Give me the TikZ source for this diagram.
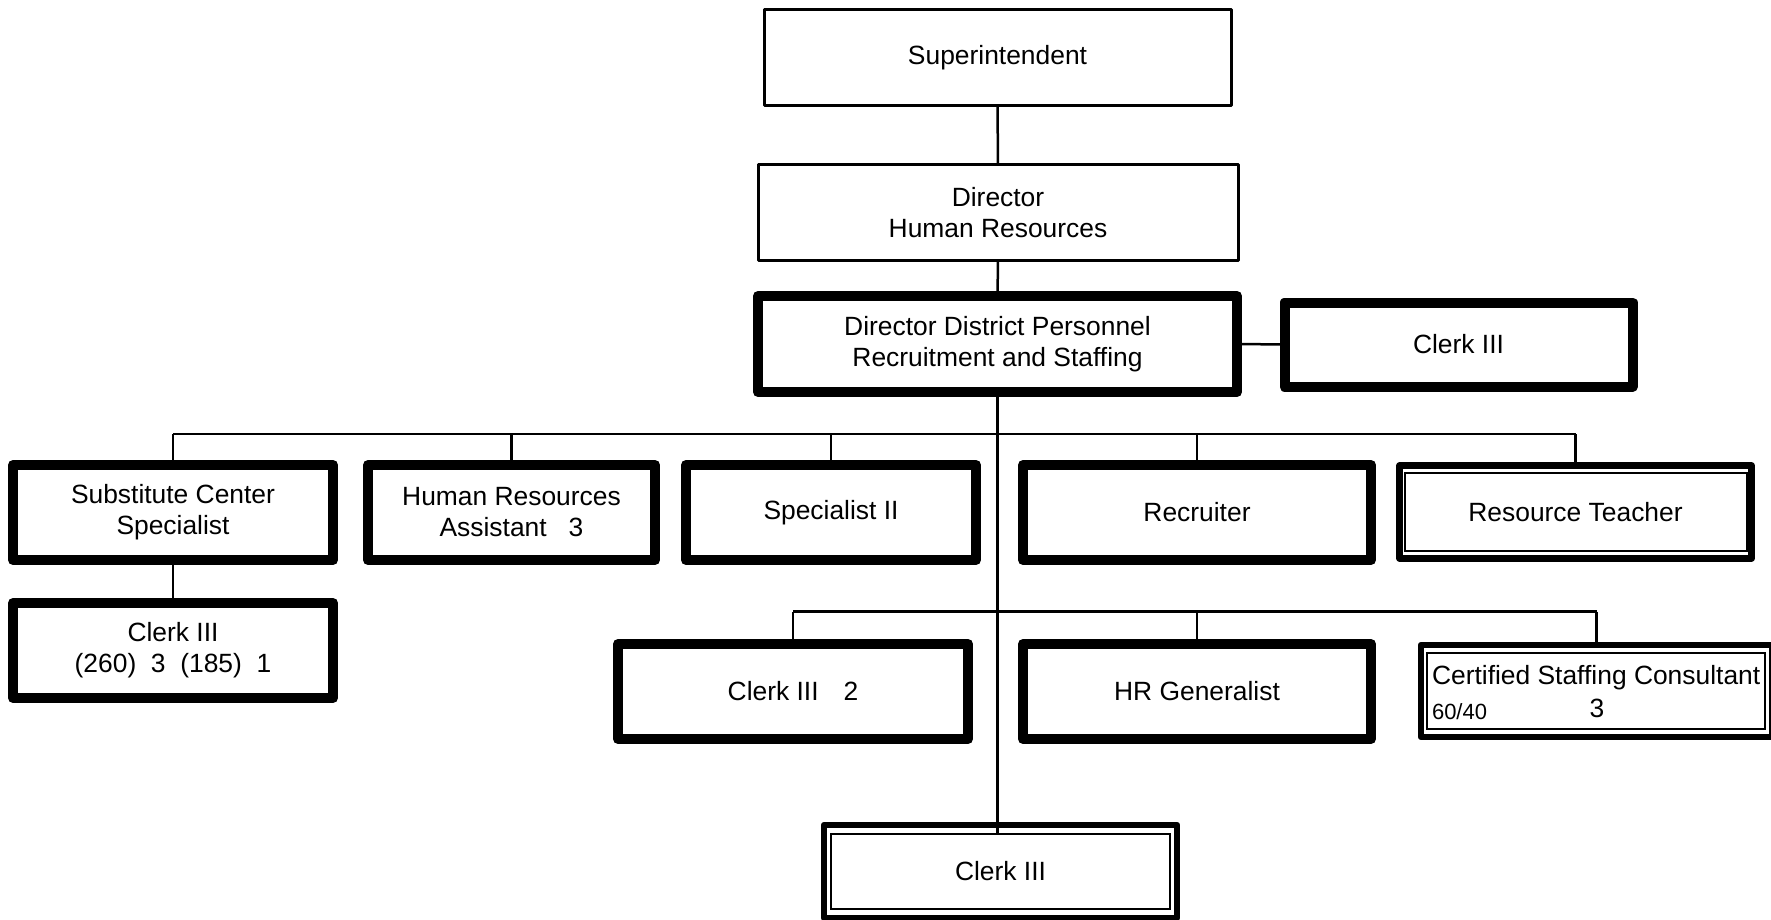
\documentclass[tikz,border=0pt]{standalone}
\usepackage{fontspec}
\setmainfont{Liberation Sans}
\usetikzlibrary{calc}
\begin{document}
\begin{tikzpicture}[x=1pt,y=-1pt,
  box/.style={draw, rectangle, fill=white, inner sep=0pt, outer sep=0pt, align=center,
    font=\fontsize{26.4}{31}\selectfont, line join=round},
  thinbox/.style={box, line width=3pt},
  thickbox/.style={box, line width=10pt},
  dblbox/.style={box, line width=6.5pt},
  innerframe/.style={line width=2pt},
  conn/.style={line width=2.5pt},
  lbl/.style={inner sep=0pt, outer sep=0pt, font=\fontsize{26.4}{31}\selectfont},
  smalllbl/.style={inner sep=0pt, outer sep=0pt, font=\fontsize{22}{26}\selectfont}]
\useasboundingbox (0,0) rectangle (1771,920);

% bus coordinates
\coordinate (b1L) at (173,434);
\coordinate (b1R) at (1576,434);
\coordinate (b2L) at (793,611.5);
\coordinate (b2R) at (1597,611.5);

% connectors (drawn first, boxes cover them)
\draw[conn] (b1L) -- (b1R);
\draw[conn] (b2L) -- (b2R);

% top
\node[thinbox, minimum width=467pt, minimum height=96pt] (sup) at (997.5,57.5) {Superintendent};
\node[thinbox, minimum width=480pt, minimum height=95pt] (dhr) at (998,212.5) {Director\\Human Resources};
\node[thickbox, minimum width=479pt, minimum height=96pt] (ddp) at (997.5,344) {Director District Personnel\\Recruitment and Staffing};
\node[thickbox, minimum width=348pt, minimum height=84pt] (clr) at (1458.5,344.5) {Clerk III};

% row 2
\node[thickbox, minimum width=320pt, minimum height=95pt] (scs) at (173,512.5) {Substitute Center\\Specialist};
\node[thickbox, minimum width=287pt, minimum height=95pt] (hra) at (511.5,512.5) {Human Resources\\Assistant\ \ \ 3};
\node[thickbox, minimum width=290pt, minimum height=95pt] (sp2) at (831,512.5) {Specialist II};
\node[thickbox, minimum width=348pt, minimum height=95pt] (rec) at (1197,512.5) {Recruiter};
\node[dblbox, minimum width=352pt, minimum height=93pt] (rt) at (1575.5,512) {Resource Teacher};
\draw[innerframe] ($(rt.north west)+(5.5,7.5)$) rectangle ($(rt.south east)+(-5,-7.5)$);

% under substitute
\node[thickbox, minimum width=320pt, minimum height=95pt] (c260) at (173,650.5) {Clerk III\\(260)\ \ 3\ \ (185)\ \ 1};

% row 3
\node[thickbox, minimum width=350pt, minimum height=95pt] (c32) at (793,691.5) {Clerk III\hspace{25pt}2};
\node[thickbox, minimum width=348pt, minimum height=95pt] (hrg) at (1197,691.5) {HR Generalist};
\node[dblbox, minimum width=351pt, minimum height=92pt] (csc) at (1596.5,691) {};
\draw[innerframe] ($(csc.north west)+(6,8)$) rectangle ($(csc.south east)+(-7,-8)$);
\node[lbl, anchor=base west] (csct) at (1432,684) {Certified Staffing Consultant};
\node[smalllbl, anchor=base west] (cscp) at (1432,719) {60/40};
\node[lbl, anchor=base] (cscn) at (1597,717) {3};

% bottom
\node[dblbox, minimum width=353pt, minimum height=93pt] (c3b) at (1000.5,871.5) {Clerk III};
\draw[innerframe] ($(c3b.north west)+(7,8.5)$) rectangle ($(c3b.south east)+(-7.5,-9.5)$);
\coordinate (c3bi) at ($(c3b.north)+(0,8.5)$);

% vertical connectors
\draw[conn] (sup.south) -- (dhr.north);
\draw[conn] (dhr.south) -- (ddp.north);
\draw[conn] (ddp.east) -- (clr.west);
\draw[conn] (ddp.south) -- (ddp.south |- c3bi);
\draw[conn] (scs.north) -- (scs.north |- b1L);
\draw[conn] (hra.north) -- (hra.north |- b1L);
\draw[conn] (sp2.north) -- (sp2.north |- b1L);
\draw[conn] (rec.north) -- (rec.north |- b1L);
\draw[conn] (rt.north) -- (rt.north |- b1L);
\draw[conn] (scs.south) -- (c260.north);
\draw[conn] (c32.north) -- (c32.north |- b2L);
\draw[conn] (hrg.north) -- (hrg.north |- b2L);
\draw[conn] (csc.north) -- (csc.north |- b2L);
\end{tikzpicture}
\end{document}
